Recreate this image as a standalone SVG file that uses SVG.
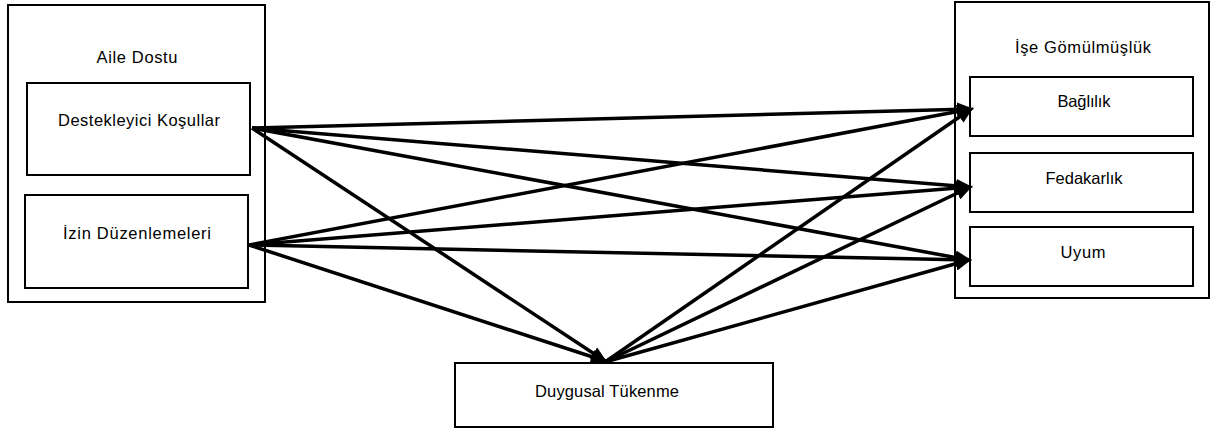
<svg xmlns="http://www.w3.org/2000/svg" width="1215" height="429" viewBox="0 0 1215 429">
<style>
.box{fill:#fff;stroke:#000;stroke-width:2}
.t{font-family:"Liberation Sans","Open Sans",sans-serif;font-size:16.5px;fill:#000;text-anchor:middle}
.c{stroke:#000;stroke-width:3.5;fill:none;marker-end:url(#ah)}
</style>
<defs>
<marker id="ah" markerUnits="userSpaceOnUse" markerWidth="18" markerHeight="14" refX="14" refY="7" orient="auto">
<path d="M0,0 L17,7 L0,14 z" fill="#000"/>
</marker>
</defs>
<rect width="1215" height="429" fill="#fff"/>
<g id="aile-dostu">
<rect class="box" x="8" y="5" width="257" height="297"/>
<text class="t" x="137" y="63" textLength="81" lengthAdjust="spacing">Aile Dostu</text>
</g>
<g id="destekleyici">
<rect class="box" x="27" y="83" width="223" height="92"/>
<text class="t" x="139" y="126" textLength="162" lengthAdjust="spacing">Destekleyici Koşullar</text>
</g>
<g id="izin">
<rect class="box" x="25" y="195" width="223" height="93"/>
<text class="t" x="137" y="239" textLength="148" lengthAdjust="spacing">İzin Düzenlemeleri</text>
</g>
<g id="ise-gomulmusluk">
<rect class="box" x="955" y="2" width="254" height="296"/>
<text class="t" x="1083" y="53" textLength="136" lengthAdjust="spacing">İşe Gömülmüşlük</text>
</g>
<g id="baglilik">
<rect class="box" x="970" y="77" width="223" height="59"/>
<text class="t" x="1084" y="107" textLength="53" lengthAdjust="spacing">Bağlılık</text>
</g>
<g id="fedakarlik">
<rect class="box" x="970" y="153" width="223" height="59"/>
<text class="t" x="1084" y="184" textLength="77" lengthAdjust="spacing">Fedakarlık</text>
</g>
<g id="uyum">
<rect class="box" x="970" y="227" width="223" height="59"/>
<text class="t" x="1083" y="258" textLength="45" lengthAdjust="spacing">Uyum</text>
</g>
<g id="duygusal">
<rect class="box" x="455" y="363" width="318" height="64"/>
<text class="t" x="607" y="397" textLength="144" lengthAdjust="spacing">Duygusal Tükenme</text>
</g>
<g id="connectors">
<line class="c" x1="252" y1="128" x2="971" y2="109"/>
<line class="c" x1="252" y1="128" x2="970" y2="187"/>
<line class="c" x1="252" y1="128" x2="969" y2="260"/>
<line class="c" x1="252" y1="128" x2="605" y2="361"/>
<line class="c" x1="249" y1="245" x2="971" y2="109"/>
<line class="c" x1="249" y1="245" x2="970" y2="187"/>
<line class="c" x1="249" y1="245" x2="969" y2="260"/>
<line class="c" x1="249" y1="245" x2="605" y2="361"/>
<line class="c" x1="605" y1="362" x2="971" y2="109"/>
<line class="c" x1="605" y1="362" x2="970" y2="187"/>
<line class="c" x1="605" y1="362" x2="969" y2="260"/>
</g>
</svg>
